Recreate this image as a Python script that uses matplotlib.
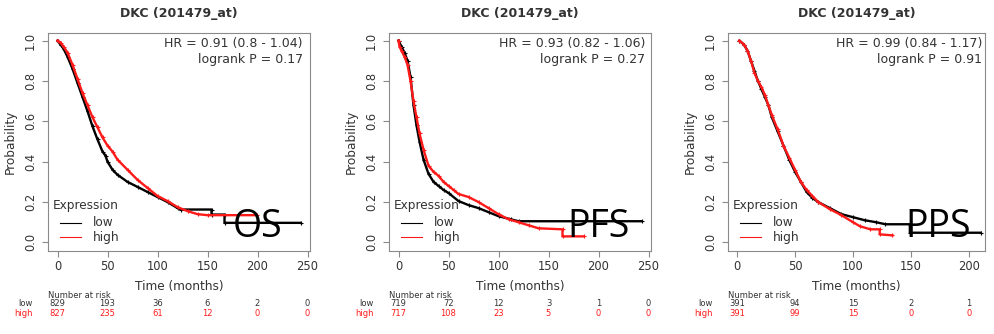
import matplotlib
matplotlib.use("Agg")
import matplotlib.pyplot as plt
from matplotlib.transforms import blended_transform_factory
from matplotlib.lines import Line2D

W, H = 994, 334
title = "DKC (201479_at)"
labels_overlay = ["OS", "PFS", "PPS"]
hr_texts = ["HR = 0.91 (0.8 - 1.04)", "HR = 0.93 (0.82 - 1.06)", "HR = 0.99 (0.84 - 1.17)"]
p_texts = ["logrank P = 0.17", "logrank P = 0.27", "logrank P = 0.91"]

# OS (time in months, survival probability)
os_low_t = [0, 3, 6, 10, 15, 20, 25, 30, 35, 40, 45, 48, 50, 55, 60, 70, 80, 90, 100, 110, 120, 123, 154, 154, 167, 167, 243]
os_low_s = [1.0, 0.98, 0.96, 0.92, 0.86, 0.79, 0.72, 0.65, 0.575, 0.51, 0.45, 0.43, 0.40, 0.36, 0.335, 0.30, 0.275, 0.25, 0.225, 0.20, 0.17, 0.163, 0.163, 0.138, 0.138, 0.097, 0.097]
os_high_t = [0, 3, 6, 10, 15, 20, 25, 30, 35, 40, 45, 50, 55, 60, 70, 80, 90, 100, 110, 120, 130, 140, 150, 199]
os_high_s = [1.0, 0.99, 0.97, 0.94, 0.88, 0.81, 0.74, 0.68, 0.62, 0.57, 0.52, 0.48, 0.45, 0.41, 0.36, 0.31, 0.27, 0.23, 0.205, 0.175, 0.155, 0.14, 0.135, 0.135]
# PFS
pfs_low_t = [0, 3, 6, 9, 12, 15, 18, 21, 25, 30, 35, 40, 45, 50, 60, 70, 80, 90, 100, 112, 120, 243]
pfs_low_s = [1.0, 0.97, 0.94, 0.90, 0.82, 0.68, 0.58, 0.50, 0.41, 0.34, 0.30, 0.28, 0.26, 0.245, 0.205, 0.185, 0.17, 0.15, 0.13, 0.115, 0.105, 0.105]
pfs_high_t = [0, 1, 3, 6, 9, 12, 15, 18, 21, 25, 30, 35, 40, 45, 50, 55, 60, 70, 80, 90, 100, 110, 120, 130, 140, 164, 164, 185]
pfs_high_s = [1.0, 0.97, 0.95, 0.92, 0.88, 0.80, 0.70, 0.62, 0.54, 0.46, 0.38, 0.35, 0.33, 0.30, 0.28, 0.26, 0.24, 0.225, 0.20, 0.17, 0.14, 0.115, 0.10, 0.085, 0.07, 0.065, 0.03, 0.03]
# PPS
pps_low_t = [2, 6, 9, 12, 15, 18, 21, 24, 27, 30, 35, 40, 45, 50, 55, 60, 65, 70, 80, 90, 100, 110, 120, 128, 149, 149, 210]
pps_low_s = [1.0, 0.98, 0.95, 0.90, 0.85, 0.80, 0.76, 0.72, 0.68, 0.62, 0.55, 0.48, 0.41, 0.35, 0.30, 0.25, 0.22, 0.20, 0.17, 0.14, 0.125, 0.11, 0.10, 0.09, 0.09, 0.048, 0.048]
pps_high_t = [2, 6, 9, 12, 15, 18, 21, 24, 27, 30, 35, 40, 45, 50, 55, 60, 65, 70, 80, 90, 100, 106, 115, 123, 123, 134]
pps_high_s = [1.0, 0.98, 0.95, 0.90, 0.84, 0.80, 0.77, 0.73, 0.68, 0.63, 0.56, 0.48, 0.42, 0.36, 0.30, 0.26, 0.23, 0.20, 0.165, 0.135, 0.10, 0.08, 0.065, 0.065, 0.04, 0.035]

# number at risk
risk_times = [[0, 50, 100, 150, 200, 250], [0, 50, 100, 150, 200, 250], [0, 50, 100, 150, 200]]
risk_low = [[829, 193, 36, 6, 2, 0], [719, 72, 12, 3, 1, 0], [391, 94, 15, 2, 1]]
risk_high = [[827, 235, 61, 12, 0, 0], [717, 108, 23, 5, 0, 0], [391, 99, 15, 0, 0]]

curves = [
    (os_low_t, os_low_s, os_high_t, os_high_s),
    (pfs_low_t, pfs_low_s, pfs_high_t, pfs_high_s),
    (pps_low_t, pps_low_s, pps_high_t, pps_high_s),
]

# layout (pixels)
boxes = [(48, 310), (389, 651), (728, 985)]
xlims = [(-9.5, 252.5), (-9.5, 252.5), (-7.8, 213.8)]
xticks = [[0, 50, 100, 150, 200, 250], [0, 50, 100, 150, 200, 250], [0, 50, 100, 150, 200]]
hr_right = [303, 645, 982]
overlay_x = [233, 567, 905]
top, bottom = 32.5, 250.5

TXT = "#333333"
FRAME = "#8a8a8a"
RED = "#ff1a1a"

fig = plt.figure(figsize=(W / 100, H / 100), dpi=100)
plt.rcParams["font.family"] = ["DejaVu Sans"]


def fx(x):
    return x / W


def fy(y):
    return 1 - y / H


for i in range(3):
    l, r = boxes[i]
    ax = fig.add_axes([fx(l), fy(bottom), (r - l) / W, (bottom - top) / H])
    lt, ls, ht, hs = curves[i]
    ax.plot(lt, ls, color="black", lw=1.7, solid_joinstyle="round")
    ax.plot(lt, ls, "+", color="black", ms=3.5, mew=0.8)
    ax.plot(ht, hs, color=RED, lw=1.7, solid_joinstyle="round")
    ax.plot(ht, hs, "+", color=RED, ms=3.5, mew=0.8)
    ax.set_xlim(*xlims[i])
    ax.set_ylim(-0.04, 1.04)
    ax.set_xticks(xticks[i])
    ax.set_yticks([0, 0.2, 0.4, 0.6, 0.8, 1.0])
    ax.set_yticklabels(["0.0", "0.2", "0.4", "0.6", "0.8", "1.0"], rotation=90, va="center")
    ax.tick_params(axis="both", colors=FRAME, labelcolor=TXT, labelsize=8.3, length=4, width=0.8)
    ax.tick_params(axis="x", pad=3)
    ax.tick_params(axis="y", pad=4)
    for sp in ax.spines.values():
        sp.set_color(FRAME)
        sp.set_linewidth(0.8)
    ax.set_xlabel("Time (months)", fontsize=8.7, color=TXT, labelpad=5)
    ax.set_ylabel("Probability", fontsize=8.7, color=TXT, labelpad=5)
    fig.text((fx(l) + fx(r)) / 2, fy(13), title, ha="center", va="center",
             fontsize=9, fontweight="bold", color=TXT)

    # HR / logrank text
    fig.text(fx(hr_right[i]), fy(43), hr_texts[i], ha="right", va="center", fontsize=9, color=TXT)
    fig.text(fx(hr_right[i]), fy(60), p_texts[i], ha="right", va="center", fontsize=9, color=TXT)

    # legend
    fig.text(fx(l + 5), fy(205), "Expression", ha="left", va="center", fontsize=8.7, color=TXT)
    fig.text(fx(l + 45), fy(223), "low", ha="left", va="center", fontsize=8.7, color=TXT)
    fig.text(fx(l + 45), fy(237), "high", ha="left", va="center", fontsize=8.7, color=TXT)
    fig.add_artist(Line2D([fx(l + 12), fx(l + 33)], [fy(223), fy(223)], color="black", lw=0.8))
    fig.add_artist(Line2D([fx(l + 12), fx(l + 33)], [fy(237), fy(237)], color=RED, lw=0.8))

    # number at risk
    tr = blended_transform_factory(ax.transData, fig.transFigure)
    fig.text(fx(l), fy(295), "Number at risk", ha="left", va="center", fontsize=6, color=TXT)
    fig.text(fx(l - 15), fy(304), "low", ha="right", va="center", fontsize=6, color=TXT)
    fig.text(fx(l - 15), fy(313), "high", ha="right", va="center", fontsize=6, color=RED)
    for t, nl, nh in zip(risk_times[i], risk_low[i], risk_high[i]):
        ax.text(t, fy(304), str(nl), transform=tr, ha="center", va="center", fontsize=6, color=TXT, clip_on=False)
        ax.text(t, fy(313), str(nh), transform=tr, ha="center", va="center", fontsize=6, color=RED, clip_on=False)

    # overlay label
    fig.text(fx(overlay_x[i]), fy(237), labels_overlay[i], ha="left", va="baseline",
             fontsize=27, color="black", family=["Open Sans", "DejaVu Sans"])

fig.savefig("out.png", dpi=100)
